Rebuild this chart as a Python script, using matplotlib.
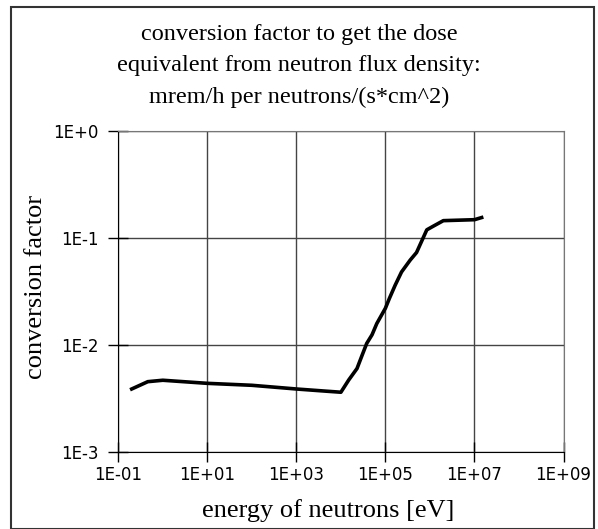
import matplotlib
matplotlib.use("Agg")
import matplotlib.pyplot as plt
from matplotlib.patches import Rectangle

# values (energy in eV, factor in mrem/h per n/(s*cm^2))
energy = [0.2, 0.46, 1.0, 10, 100, 1e3, 4e3, 1e4, 1.5e4, 2.3e4, 3e4, 3.8e4, 5e4,
          6.4e4, 1e5, 1.23e5, 1.65e5, 2.3e5, 3.6e5, 5e5, 8.5e5, 1.2e6, 2e6, 1e7, 1.45e7]
factor = [3.86e-3, 4.52e-3, 4.66e-3, 4.36e-3, 4.18e-3, 3.86e-3, 3.7e-3, 3.6e-3, 4.69e-3,
          6.0e-3, 8.0e-3, 1.03e-2, 1.24e-2, 1.58e-2, 2.2e-2, 2.72e-2, 3.6e-2, 4.8e-2,
          6.2e-2, 7.3e-2, 0.119, 0.129, 0.145, 0.148, 0.155]

xticks = [1e-1, 1e1, 1e3, 1e5, 1e7, 1e9]
xticklabels = ["1E-01", "1E+01", "1E+03", "1E+05", "1E+07", "1E+09"]
yticks = [1e-3, 1e-2, 1e-1, 1e0]
yticklabels = ["1E-3", "1E-2", "1E-1", "1E+0"]

title = "conversion factor to get the dose\nequivalent from neutron flux density:\nmrem/h per neutrons/(s*cm^2)"

fig = plt.figure(figsize=(5.98, 5.29), dpi=100)
ax = fig.add_axes([118.3 / 598, 1 - 451.7 / 529, (563.5 - 118.3) / 598, (451.7 - 131) / 529])

ax.plot(energy, factor, color="black", lw=2.6, solid_joinstyle="round")
ax.set_xscale("log")
ax.set_yscale("log")
ax.set_xlim(1e-1, 1e9)
ax.set_ylim(1e-3, 1e0)

ax.set_xticks(xticks)
ax.set_xticklabels(xticklabels)
ax.set_yticks(yticks)
ax.set_yticklabels(yticklabels)
ax.minorticks_off()
ax.tick_params(direction="inout", length=14, width=1, labelsize=12)
ax.tick_params(axis="y", pad=7)
ax.tick_params(axis="x", pad=3)
ax.grid(True, color="#444444", lw=1)

for s in ["top", "right"]:
    ax.spines[s].set_color("#777777")
for s in ["left", "bottom"]:
    ax.spines[s].set_color("black")

serif = "Liberation Serif"
ax.set_xlabel("energy of neutrons [eV]", fontfamily=serif, fontsize=19)
ax.set_ylabel("conversion factor", fontfamily=serif, fontsize=19)
ax.xaxis.label.set_va("center")
ax.yaxis.label.set_va("center")
ax.xaxis.set_label_coords((328 - 118.3) / 445.2, -(511 - 451.7) / 320.7)
ax.yaxis.set_label_coords((36 - 118.3) / 445.2, (451.7 - 287) / 320.7)
fig.text(0.5, 1 - 66 / 529, title, ha="center", va="center",
         fontfamily=serif, fontsize=17.5, linespacing=1.62)

# frame around the whole chart
fig.add_artist(Rectangle((10.5 / 598, 0.5 / 529), (594 - 10.5) / 598, (522 / 529),
                         transform=fig.transFigure, fill=False, edgecolor="#333333", lw=1.5))

fig.savefig("out.png", dpi=100)
